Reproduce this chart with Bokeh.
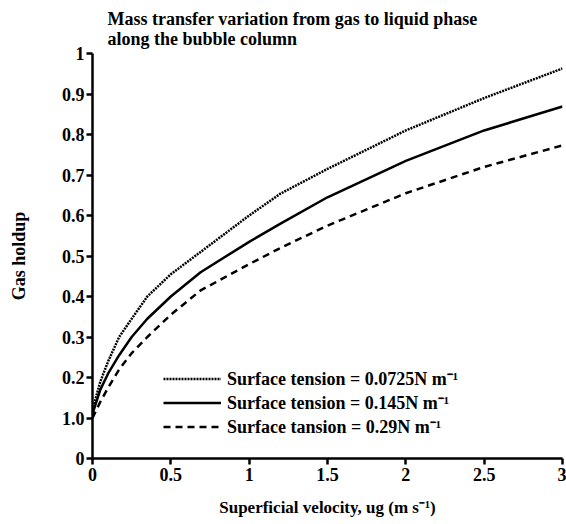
from bokeh.plotting import figure
from bokeh.models import Range1d, Legend, LegendItem, FixedTicker, Title
from bokeh.embed import file_html
from bokeh.resources import INLINE

# Data
velocity = [0, 0.05, 0.1, 0.17, 0.25, 0.35, 0.5, 0.69, 1.0, 1.2, 1.5, 2.0, 2.5, 3.0]
holdup_00725 = [0.12, 0.19, 0.24, 0.30, 0.345, 0.40, 0.455, 0.51, 0.60, 0.654, 0.715, 0.81, 0.89, 0.963]
holdup_0145 = [0.11, 0.17, 0.21, 0.255, 0.30, 0.345, 0.40, 0.46, 0.535, 0.58, 0.645, 0.735, 0.81, 0.869]
holdup_029 = [0.10, 0.14, 0.175, 0.22, 0.26, 0.30, 0.355, 0.415, 0.48, 0.52, 0.575, 0.655, 0.72, 0.773]

series_labels = ["Surface tension = 0.0725N m\u207b\u00b9",
                 "Surface tension = 0.145N m\u207b\u00b9",
                 "Surface tansion = 0.29N m\u207b\u00b9"]

x_ticks = [0, 0.5, 1, 1.5, 2, 2.5, 3]
x_tick_labels = ["0", "0.5", "1", "1.5", "2", "2.5", "3"]
y_ticks = [0, 0.1, 0.2, 0.3, 0.4, 0.5, 0.6, 0.7, 0.8, 0.9, 1.0]
y_tick_labels = ["0", "1.0", "0.2", "0.3", "0.4", "0.5", "0.6", "0.7", "0.8", "0.9", "1"]

title_text = "Mass transfer variation from gas to liquid phase\nalong the bubble column"
x_label = "Superficial velocity, ug (m s\u207b\u00b9)"
y_label = "Gas holdup"

FONT = "Liberation Serif"

p = figure(width=566, height=524, output_backend="svg", toolbar_location=None,
           x_range=Range1d(0, 3), y_range=Range1d(0, 1),
           min_border_left=92, min_border_right=4, min_border_top=53, min_border_bottom=66)
p.outline_line_color = None
p.xgrid.visible = False
p.ygrid.visible = False
p.background_fill_color = "white"

t = Title(text=title_text, align="left", offset=15, text_font=FONT,
          text_font_size="18px", text_font_style="bold", text_color="black",
          text_line_height=1.0)
p.add_layout(t, "above")
p.title.visible = False

r1 = p.line(velocity, holdup_00725, line_color="black", line_width=2.5, line_dash="2 1")
r2 = p.line(velocity, holdup_0145, line_color="black", line_width=2.5)
r3 = p.line(velocity, holdup_029, line_color="black", line_width=2.5, line_dash="7 5")

for ax in (p.xaxis[0], p.yaxis[0]):
    ax.axis_line_width = 2.5
    ax.axis_line_color = "black"
    ax.major_tick_line_width = 2.5
    ax.major_tick_line_color = "black"
    ax.major_tick_in = 0
    ax.major_tick_out = 6
    ax.minor_tick_line_color = None
    ax.major_label_text_font = FONT
    ax.major_label_text_font_style = "bold"
    ax.major_label_text_font_size = "18px"
    ax.major_label_text_color = "black"
    ax.axis_label_text_font = FONT
    ax.axis_label_text_font_style = "bold"
    ax.axis_label_text_color = "black"

p.xaxis[0].axis_label_text_font_size = "17px"
p.yaxis[0].axis_label_text_font_size = "18px"
p.xaxis[0].ticker = FixedTicker(ticks=x_ticks)
p.xaxis[0].major_label_overrides = {float(k) if k % 1 else int(k): v for k, v in zip(x_ticks, x_tick_labels)}
p.yaxis[0].ticker = FixedTicker(ticks=y_ticks)
p.yaxis[0].major_label_overrides = {float(k) if k % 1 else int(k): v for k, v in zip(y_ticks, y_tick_labels)}
p.xaxis[0].axis_label = x_label
p.yaxis[0].axis_label = y_label
p.xaxis[0].major_label_standoff = 3
p.yaxis[0].major_label_standoff = 2
p.xaxis[0].axis_label_standoff = 14
p.yaxis[0].axis_label_standoff = 30

legend = Legend(items=[LegendItem(label=series_labels[0], renderers=[r1]),
                       LegendItem(label=series_labels[1], renderers=[r2]),
                       LegendItem(label=series_labels[2], renderers=[r3])],
                location=(71, 20), padding=0, spacing=0, margin=0,
                glyph_width=58, glyph_height=23, label_height=23,
                label_standoff=6, border_line_color=None,
                background_fill_alpha=0,
                label_text_font=FONT, label_text_font_size="18px",
                label_text_font_style="bold", label_text_color="black")
p.add_layout(legend, "center")

open("out.html", "w").write(file_html(p, INLINE))
